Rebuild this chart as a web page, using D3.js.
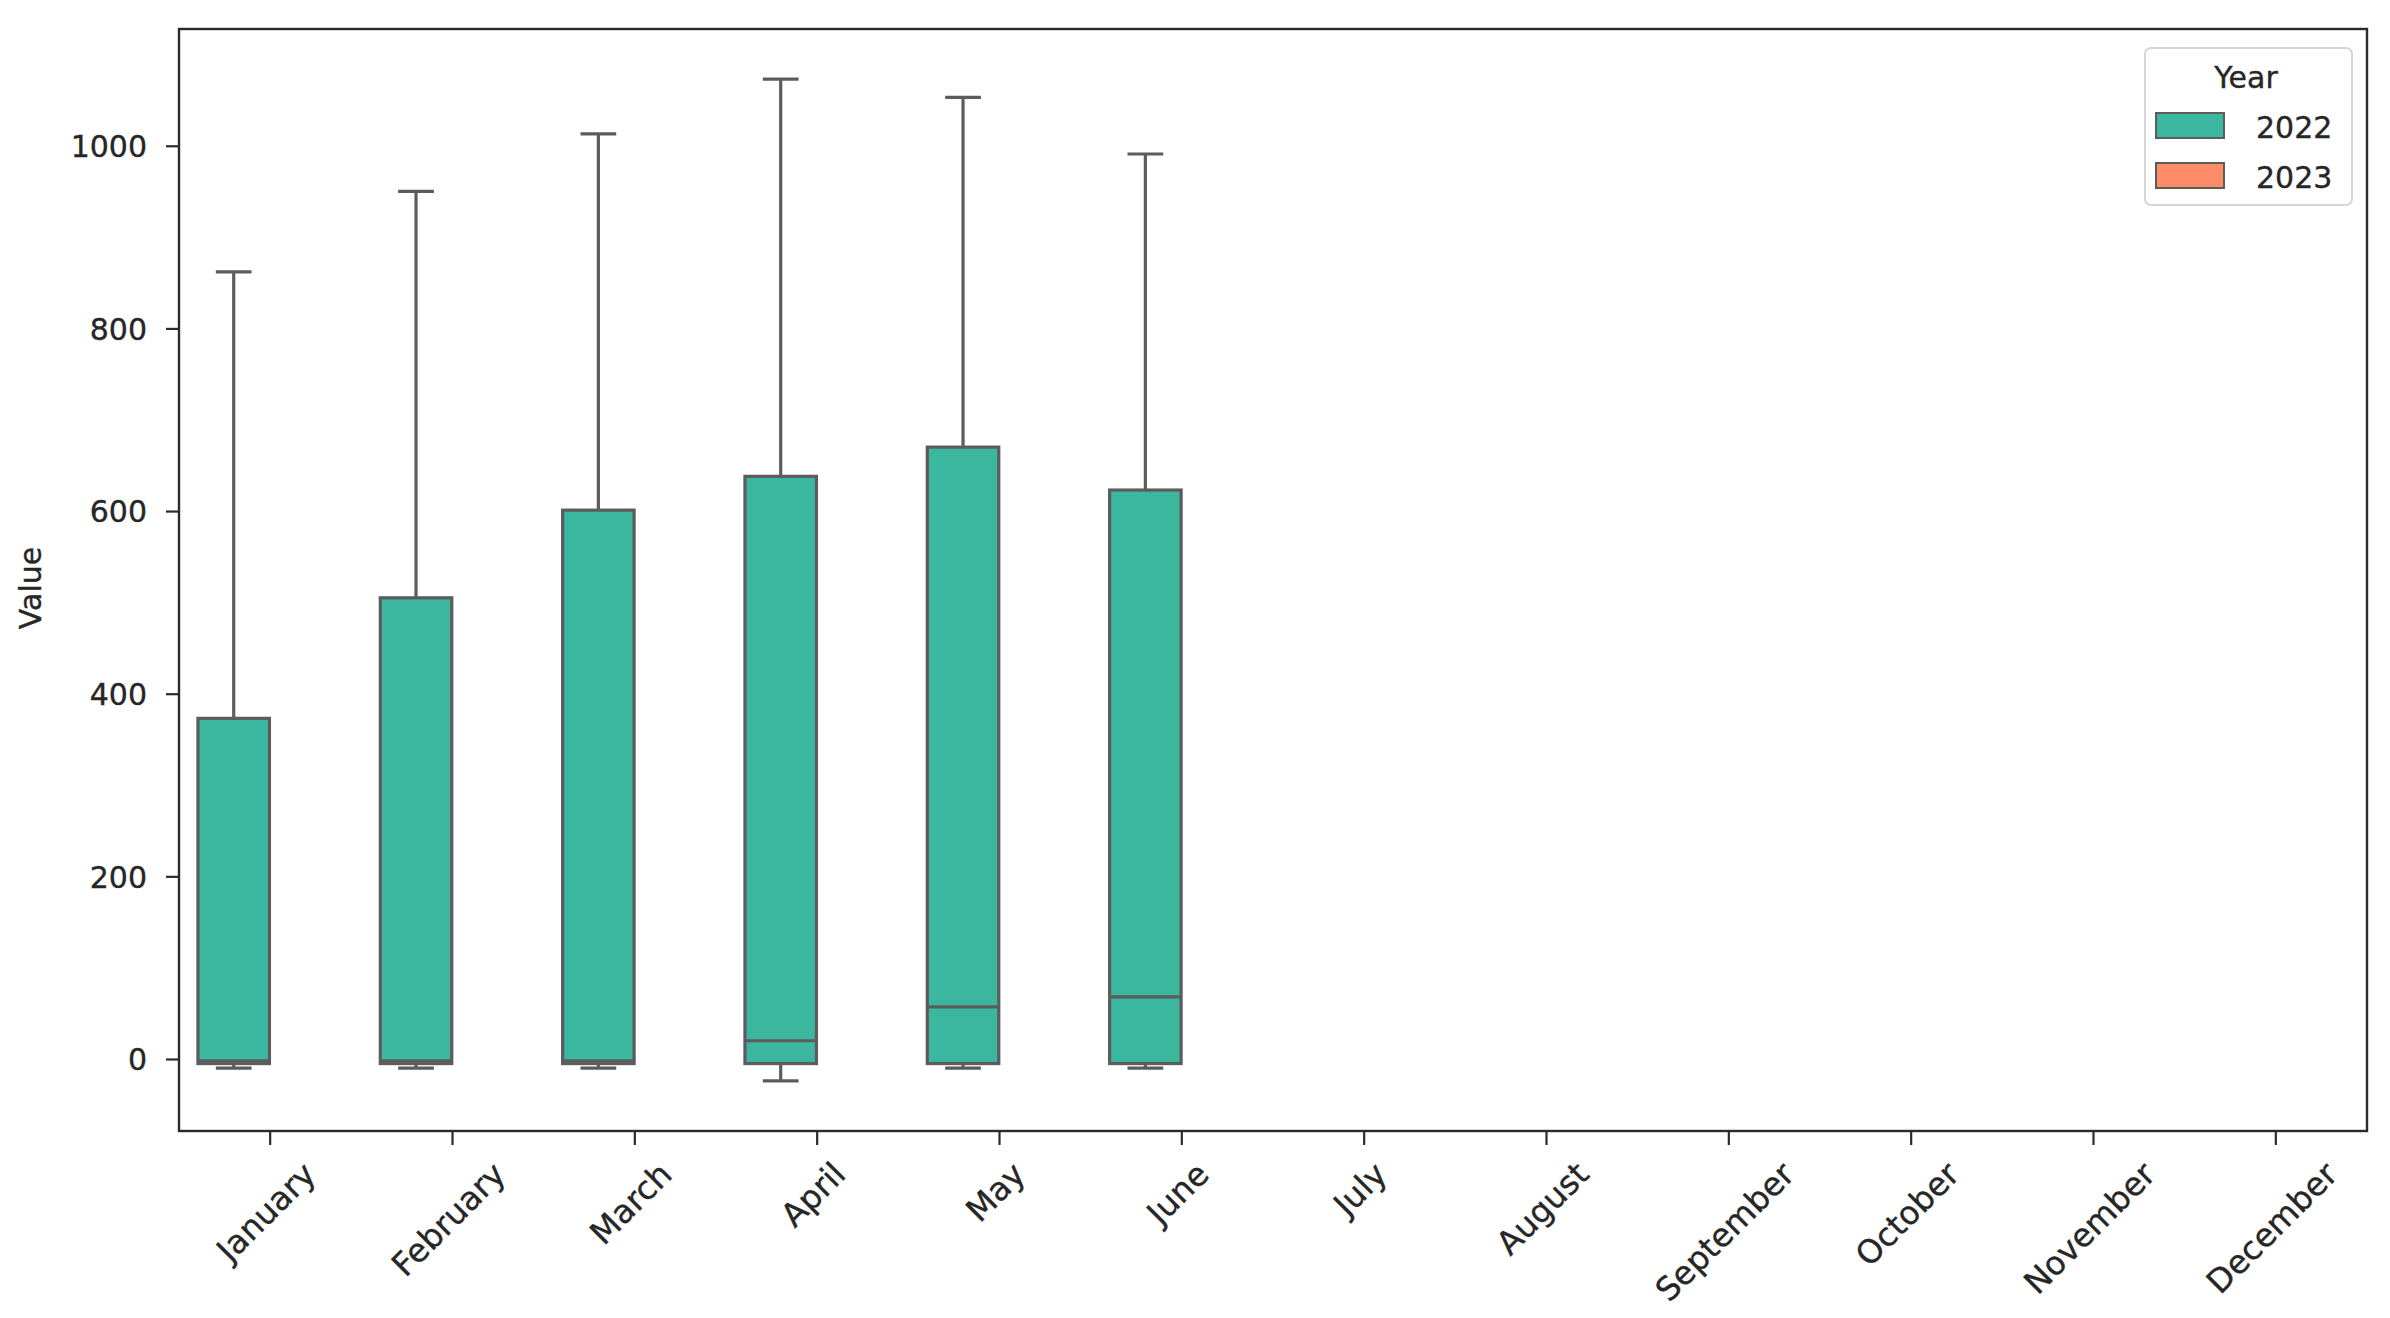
<!DOCTYPE html>
<html>
<head>
<meta charset="utf-8">
<script src="https://cdn.jsdelivr.net/npm/d3@7"></script>
<style>
  html, body { margin: 0; padding: 0; background: #ffffff; }
  svg { display: block; }
  text { font-family: "DejaVu Sans", sans-serif; fill: #262626; stroke: #262626; stroke-width: 0.35px; }
</style>
</head>
<body>
<svg id="chart" width="2390" height="1318"></svg>
<script>
// ---------- data ----------
const months = ["January","February","March","April","May","June","July","August","September","October","November","December"];
const years = ["2022", "2023"];
const yearColors = ["#3bb7a0", "#ff8c69"];

// 2022 box statistics per month (only January..June have data)
const months2022 = ["January","February","March","April","May","June"];
const whiskerLow2022  = [-10, -10, -10, -24, -10, -10];
const q1_2022         = [-5, -5, -5, -5, -5, -5];
const median2022      = [-2, -2, -2, 20, 57, 68];
const q3_2022         = [373, 505, 601, 638, 670, 623];
const whiskerHigh2022 = [862, 950, 1013, 1073, 1053, 991];

const yTicks = [0, 200, 400, 600, 800, 1000];
const yLabel = "Value";
const legendTitle = "Year";

// ---------- layout ----------
const W = 2390, H = 1318;
const plot = { left: 179, right: 2367, top: 29, bottom: 1131 };
const lineGray = "#5c5c5c";
const axisColor = "#2b2b2b";
const fontSize = 30;
const xFontSize = 32.5;

const svg = d3.select("#chart");

const boxes = months2022.map((m, i) => ({
  month: m, year: "2022",
  lo: whiskerLow2022[i], q1: q1_2022[i], med: median2022[i], q3: q3_2022[i], hi: whiskerHigh2022[i]
}));

const x = d3.scaleBand().domain(months).range([plot.left, plot.right]).padding(0);
const hueX = d3.scaleBand().domain(years).range([0, x.bandwidth() * 0.8]).padding(0);
const step = x.bandwidth();

const dataMin = d3.min(boxes, d => d.lo), dataMax = d3.max(boxes, d => d.hi);
const pad = (dataMax - dataMin) * 0.05;
const y = d3.scaleLinear().domain([dataMin - pad, dataMax + pad]).range([plot.bottom, plot.top]);
const color = d3.scaleOrdinal().domain(years).range(yearColors);

// ---------- boxes ----------
const bw = hueX.bandwidth() * 0.98;
const lw = 3.2;
const g = svg.append("g");
const bg = g.selectAll("g.box").data(boxes).join("g").attr("class", "box");
bg.each(function(d) {
  const sel = d3.select(this);
  const cx = x(d.month) + step * 0.1 + hueX(d.year) + hueX.bandwidth() / 2;
  sel.append("line").attr("x1", cx).attr("x2", cx).attr("y1", y(d.q3)).attr("y2", y(d.hi))
    .attr("stroke", lineGray).attr("stroke-width", lw);
  sel.append("line").attr("x1", cx).attr("x2", cx).attr("y1", y(d.q1)).attr("y2", y(d.lo))
    .attr("stroke", lineGray).attr("stroke-width", lw);
  [d.hi, d.lo].forEach(v => {
    sel.append("line").attr("x1", cx - bw / 4).attr("x2", cx + bw / 4).attr("y1", y(v)).attr("y2", y(v))
      .attr("stroke", lineGray).attr("stroke-width", lw);
  });
  sel.append("rect").attr("x", cx - bw / 2).attr("width", bw)
    .attr("y", y(d.q3)).attr("height", y(d.q1) - y(d.q3))
    .attr("fill", color(d.year)).attr("stroke", lineGray).attr("stroke-width", lw);
  sel.append("line").attr("x1", cx - bw / 2).attr("x2", cx + bw / 2).attr("y1", y(d.med)).attr("y2", y(d.med))
    .attr("stroke", lineGray).attr("stroke-width", lw);
});

// ---------- axes ----------
svg.append("rect").attr("x", plot.left).attr("y", plot.top)
  .attr("width", plot.right - plot.left).attr("height", plot.bottom - plot.top)
  .attr("fill", "none").attr("stroke", axisColor).attr("stroke-width", 2.4);

const yAxis = d3.axisLeft(y).tickValues(yTicks).tickSize(13).tickPadding(19).tickFormat(d3.format("d"));
const ya = svg.append("g").attr("transform", `translate(${plot.left},0)`).call(yAxis);
ya.select(".domain").remove();
ya.selectAll(".tick line").attr("stroke", axisColor).attr("stroke-width", 2.2);
ya.selectAll(".tick text").attr("font-size", fontSize).attr("fill", "#262626")
  .attr("font-family", "DejaVu Sans").attr("dy", "0.36em");

const xAxis = d3.axisBottom(x).tickSize(14).tickFormat("");
const xa = svg.append("g").attr("transform", `translate(0,${plot.bottom})`).call(xAxis);
xa.select(".domain").remove();
xa.selectAll(".tick line").attr("stroke", axisColor).attr("stroke-width", 2.2);

// rotated x labels, centered horizontally on tick, bbox top at fixed y
const labelTop = 1155;
const h = xFontSize * 1.164;
const xl = svg.append("g");
months.forEach(m => {
  const t = xl.append("text").text(m).attr("font-size", xFontSize)
    .attr("text-anchor", "middle").attr("dy", "0.346em");
  const L = t.node().getComputedTextLength();
  const half = (L + h) / (2 * Math.SQRT2);
  const cx = x(m) + step / 2 - 4;
  t.attr("transform", `translate(${cx},${labelTop + half}) rotate(-45)`);
});

svg.append("text").text(yLabel).attr("font-size", fontSize)
  .attr("text-anchor", "middle")
  .attr("transform", `translate(41,${(plot.top + plot.bottom) / 2 + 8}) rotate(-90)`);

// ---------- legend ----------
const lg = svg.append("g");
lg.append("rect").attr("x", 2145).attr("y", 48).attr("width", 207).attr("height", 157)
  .attr("rx", 6).attr("fill", "#ffffff").attr("fill-opacity", 0.8)
  .attr("stroke", "#d6d6d6").attr("stroke-width", 2);
lg.append("text").text(legendTitle).attr("font-size", fontSize).attr("text-anchor", "middle")
  .attr("x", 2246).attr("y", 88);
years.forEach((yr, i) => {
  const yy = 113 + i * 50;
  lg.append("rect").attr("x", 2156).attr("y", yy).attr("width", 68).attr("height", 25)
    .attr("fill", color(yr)).attr("stroke", lineGray).attr("stroke-width", 2);
  lg.append("text").text(yr).attr("font-size", fontSize).attr("x", 2256).attr("y", yy + 25);
});
</script>
</body>
</html>
